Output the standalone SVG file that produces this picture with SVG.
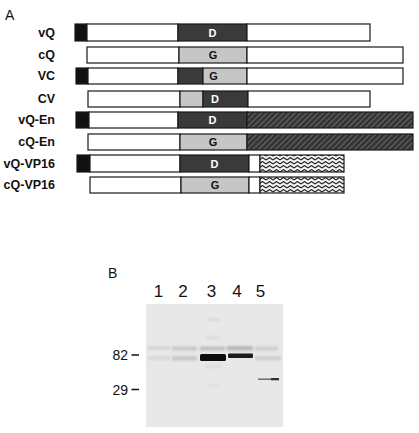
<svg xmlns="http://www.w3.org/2000/svg" width="419" height="433" viewBox="0 0 419 433">
<defs>
<pattern id="hatch" width="4" height="4" patternUnits="userSpaceOnUse" patternTransform="rotate(45)">
<rect width="4" height="4" fill="#353535"/>
<line x1="0" y1="0" x2="0" y2="4" stroke="#9a9a9a" stroke-width="1"/>
</pattern>
<pattern id="zig" width="7" height="4" patternUnits="userSpaceOnUse" y="1">
<rect width="7" height="4" fill="#f4f4f4"/>
<polyline points="0,3 3.5,0.5 7,3" fill="none" stroke="#222" stroke-width="1.1"/>
</pattern>
<filter id="blur" x="-20%" y="-50%" width="140%" height="200%"><feGaussianBlur stdDeviation="0.8"/></filter>
<filter id="soft" x="-10%" y="-60%" width="120%" height="220%"><feGaussianBlur stdDeviation="0.4"/></filter>
</defs>
<style>
.lbl{font-family:"Liberation Sans",Arial,sans-serif;font-weight:bold;font-size:12.5px;fill:#111;text-anchor:end}
.dom{font-family:"Liberation Sans",Arial,sans-serif;font-weight:bold;font-size:11px;text-anchor:middle}
.bx{stroke:#1a1a1a;stroke-width:1.2}
.w{fill:#ffffff}
.k{fill:#111111}
.d{fill:#3a3a3a}
.g{fill:#c6c6c6}
.h{fill:url(#hatch)}
.z{fill:url(#zig)}
.big{font-family:"Liberation Sans",Arial,sans-serif;font-size:17px;fill:#111;text-anchor:middle}
.mw{font-family:"Liberation Sans",Arial,sans-serif;font-size:14px;fill:#111;text-anchor:end}
.pl{font-family:"Liberation Sans",Arial,sans-serif;font-size:14px;fill:#111}
</style>
<rect width="419" height="433" fill="#ffffff"/>
<text class="pl" x="5" y="20">A</text>

<g id="vQ">
<text class="lbl" x="55" y="37">vQ</text>
<rect class="bx k" x="75" y="24" width="12" height="17"/>
<rect class="bx w" x="87" y="24" width="91" height="17"/>
<rect class="bx d" x="178" y="24" width="69" height="17"/>
<rect class="bx w" x="247" y="24" width="123" height="17"/>
<text class="dom" x="212.5" y="36.5" fill="#fff">D</text>
</g>
<g id="cQ">
<text class="lbl" x="55" y="59">cQ</text>
<rect class="bx w" x="87" y="47" width="92" height="16"/>
<rect class="bx g" x="179" y="47" width="68" height="16"/>
<rect class="bx w" x="247" y="47" width="156" height="16"/>
<text class="dom" x="213" y="59" fill="#111">G</text>
</g>
<g id="VC">
<text class="lbl" x="55" y="80">VC</text>
<rect class="bx k" x="76" y="68" width="12" height="16"/>
<rect class="bx w" x="88" y="68" width="90" height="16"/>
<rect class="bx d" x="178" y="68" width="25" height="16"/>
<rect class="bx g" x="203" y="68" width="44" height="16"/>
<rect class="bx w" x="247" y="68" width="156" height="16"/>
<text class="dom" x="213.5" y="80" fill="#111">G</text>
</g>
<g id="CV">
<text class="lbl" x="55" y="103">CV</text>
<rect class="bx w" x="88" y="91" width="92" height="16"/>
<rect class="bx g" x="180" y="91" width="23" height="16"/>
<rect class="bx d" x="203" y="91" width="45" height="16"/>
<rect class="bx w" x="248" y="91" width="122" height="16"/>
<text class="dom" x="215" y="103" fill="#fff">D</text>
</g>
<g id="vQ-En">
<text class="lbl" x="55" y="124">vQ-En</text>
<rect class="bx k" x="76" y="112" width="13" height="16"/>
<rect class="bx w" x="89" y="112" width="89" height="16"/>
<rect class="bx d" x="178" y="112" width="69" height="16"/>
<rect class="bx h" x="247" y="112" width="166" height="16"/>
<text class="dom" x="212.5" y="124" fill="#fff">D</text>
</g>
<g id="cQ-En">
<text class="lbl" x="55" y="146">cQ-En</text>
<rect class="bx w" x="88" y="134" width="92" height="16"/>
<rect class="bx g" x="180" y="134" width="67" height="16"/>
<rect class="bx h" x="247" y="134" width="166" height="16"/>
<text class="dom" x="213" y="146" fill="#111">G</text>
</g>
<g id="vQ-VP16">
<text class="lbl" x="55" y="168">vQ-VP16</text>
<rect class="bx k" x="77" y="155" width="13" height="17"/>
<rect class="bx w" x="90" y="155" width="90" height="17"/>
<rect class="bx d" x="180" y="155" width="69" height="17"/>
<rect class="bx w" x="249" y="155" width="11" height="17"/>
<rect class="bx z" x="260" y="155" width="84" height="17"/>
<text class="dom" x="214.5" y="167.5" fill="#fff">D</text>
</g>
<g id="cQ-VP16">
<text class="lbl" x="55" y="189">cQ-VP16</text>
<rect class="bx w" x="90" y="177" width="91" height="16"/>
<rect class="bx g" x="181" y="177" width="68" height="16"/>
<rect class="bx w" x="249" y="177" width="11" height="16"/>
<rect class="bx z" x="260" y="177" width="84" height="16"/>
<text class="dom" x="215" y="189" fill="#111">G</text>
</g>

<g id="blot">
<text class="pl" x="108" y="278">B</text>
<text class="big" x="158.5" y="296.5">1</text>
<text class="big" x="183" y="296.5">2</text>
<text class="big" x="211.5" y="296.5">3</text>
<text class="big" x="237" y="296.5">4</text>
<text class="big" x="260.5" y="296.5">5</text>
<rect x="146" y="304" width="137" height="123" fill="#e8e8e8"/>
<g filter="url(#blur)">
<rect x="148" y="346" width="22" height="4" fill="#d6d6d6"/>
<rect x="172" y="346.5" width="25" height="4" fill="#c8c8c8"/>
<rect x="200" y="346.5" width="25" height="4" fill="#c0c0c0"/>
<rect x="227" y="346" width="26" height="4.5" fill="#b8b8b8"/>
<rect x="255" y="346.5" width="23" height="4" fill="#cecece"/>
<rect x="148" y="356" width="22" height="4" fill="#d8d8d8"/>
<rect x="172" y="356" width="25" height="4.5" fill="#c8c8c8"/>
<rect x="255" y="356" width="26" height="4.5" fill="#d0d0d0"/>
<rect x="208" y="318" width="12" height="3" fill="#dadada"/>
<rect x="206" y="336" width="14" height="3" fill="#dcdcdc"/>
<rect x="205" y="365" width="16" height="3" fill="#dadada"/>
<rect x="207" y="384" width="12" height="3" fill="#dedede"/>
</g>
<g filter="url(#soft)">
<rect x="200" y="354" width="26" height="7" rx="1.5" fill="#111"/>
<rect x="228" y="353.5" width="25" height="4.5" rx="1" fill="#1c1c1c"/>
<rect x="258" y="378.5" width="21" height="1.4" fill="#666"/>
<rect x="271" y="378" width="8" height="2.3" fill="#333"/>
</g>
<text class="mw" x="128" y="360">82</text>
<line x1="131.5" y1="355" x2="139" y2="355" stroke="#111" stroke-width="1.5"/>
<text class="mw" x="128" y="395">29</text>
<line x1="131.5" y1="389.5" x2="139" y2="389.5" stroke="#111" stroke-width="1.5"/>
</g>
</svg>
